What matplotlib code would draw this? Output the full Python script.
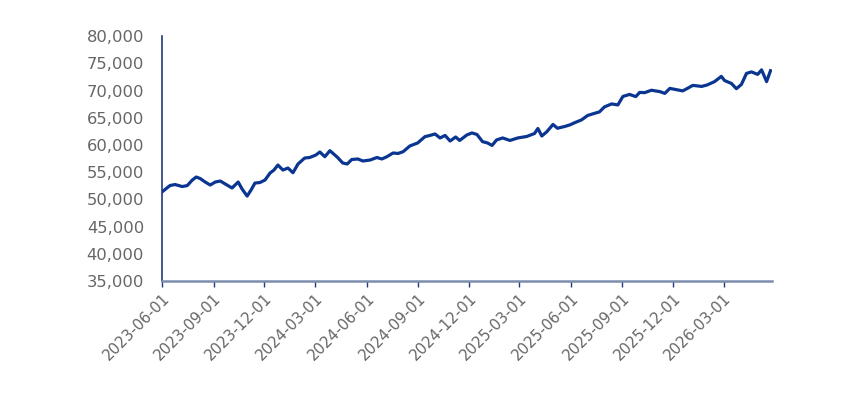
#!/usr/bin/env python3
"""Index level line chart, June 2023 - May 2026."""

import matplotlib
import pandas as pd

matplotlib.use("Agg")
import matplotlib.pyplot as plt
import matplotlib.dates as mdates
from matplotlib.ticker import FuncFormatter

DATES = [
    "2023-06-01", "2023-06-15", "2023-06-24", "2023-07-07", "2023-07-16", "2023-07-25",
    "2023-08-01", "2023-08-08", "2023-08-17", "2023-08-26", "2023-09-04", "2023-09-13",
    "2023-09-25", "2023-10-04", "2023-10-15", "2023-10-22", "2023-10-31", "2023-11-07",
    "2023-11-14", "2023-11-23", "2023-12-02", "2023-12-11", "2023-12-18", "2023-12-25",
    "2024-01-03", "2024-01-12", "2024-01-21", "2024-01-30", "2024-02-11", "2024-02-20",
    "2024-03-02", "2024-03-09", "2024-03-18", "2024-03-27", "2024-04-09", "2024-04-19",
    "2024-04-27", "2024-05-05", "2024-05-16", "2024-05-25", "2024-06-07", "2024-06-19",
    "2024-06-28", "2024-07-07", "2024-07-18", "2024-07-27", "2024-08-05", "2024-08-17",
    "2024-08-31", "2024-09-13", "2024-09-22", "2024-10-01", "2024-10-10", "2024-10-19",
    "2024-10-28", "2024-11-07", "2024-11-14", "2024-11-27", "2024-12-06", "2024-12-15",
    "2024-12-25", "2025-01-03", "2025-01-11", "2025-01-19", "2025-01-30", "2025-02-12",
    "2025-02-26", "2025-03-14", "2025-03-28", "2025-04-03", "2025-04-10", "2025-04-19",
    "2025-04-30", "2025-05-08", "2025-05-21", "2025-05-30", "2025-06-08", "2025-06-20",
    "2025-07-01", "2025-07-14", "2025-07-22", "2025-07-31", "2025-08-13", "2025-08-24",
    "2025-09-02", "2025-09-14", "2025-09-25", "2025-10-02", "2025-10-11", "2025-10-23",
    "2025-11-07", "2025-11-16", "2025-11-25", "2025-12-09", "2025-12-18", "2025-12-27",
    "2026-01-05", "2026-01-21", "2026-01-31", "2026-02-13", "2026-02-25", "2026-03-03",
    "2026-03-15", "2026-03-24", "2026-04-02", "2026-04-11", "2026-04-20", "2026-05-01",
    "2026-05-08", "2026-05-17", "2026-05-24",
]

VALUES = [
    51400, 52550, 52740, 52370, 52550, 53570,
    54120, 53840, 53200, 52650, 53200, 53380,
    52650, 52100, 53200, 51910, 50620, 51730,
    53010, 53110, 53570, 54850, 55400, 56320,
    55400, 55770, 54910, 56510, 57610, 57700,
    58160, 58710, 57850, 58950, 57790, 56690,
    56510, 57330, 57430, 57060, 57240, 57700,
    57430, 57850, 58530, 58440, 58770, 59820,
    60370, 61530, 61750, 62020, 61290, 61750,
    60730, 61470, 60830, 61840, 62210, 61930,
    60610, 60370, 59910, 60920, 61290, 60830,
    61290, 61560, 62110, 63030, 61650, 62440,
    63770, 63070, 63400, 63680, 64100, 64600,
    65420, 65830, 66070, 66990, 67540, 67350,
    68910, 69280, 68880, 69650, 69610, 70050,
    69800, 69470, 70390, 70110, 69930, 70420,
    70940, 70750, 71030, 71640, 72590, 71820,
    71300, 70330, 71120, 73140, 73420, 72960,
    73790, 71640, 73640,
]

X_TICKS = [
    "2023-06-01", "2023-09-01", "2023-12-01", "2024-03-01", "2024-06-01", "2024-09-01",
    "2024-12-01", "2025-03-01", "2025-06-01", "2025-09-01", "2025-12-01", "2026-03-01",
]
Y_TICKS = list(range(35000, 80001, 5000))

LINE_COLOR = "#0a3591"
TEXT_COLOR = "#666666"

plt.rcParams["font.family"] = ["DejaVu Sans"]

dates = pd.to_datetime(DATES)
fig = plt.figure(figsize=(8.67, 3.96), dpi=100)
ax = fig.add_axes([0.187, 0.290, 0.703, 0.619])

ax.plot(dates, VALUES, color=LINE_COLOR, linewidth=2.3, solid_joinstyle="round")

ax.set_xlim(pd.Timestamp("2023-06-01"), pd.Timestamp("2026-05-26"))
ax.set_ylim(35000, 80000)
ax.set_yticks(Y_TICKS)
ax.yaxis.set_major_formatter(FuncFormatter(lambda v, _: f"{int(v):,}"))
ax.set_xticks(pd.to_datetime(X_TICKS))
ax.xaxis.set_major_formatter(mdates.DateFormatter("%Y-%m-%d"))

for lbl in ax.get_xticklabels():
    lbl.set_rotation(45)
    lbl.set_ha("right")
    lbl.set_rotation_mode("anchor")

ax.tick_params(axis="y", length=0, pad=13, labelsize=11.8, labelcolor=TEXT_COLOR)
ax.tick_params(axis="x", length=4, width=1.0, color="#1f3a7a", pad=3,
               labelsize=10.8, labelcolor=TEXT_COLOR)

for side in ("top", "right"):
    ax.spines[side].set_visible(False)
ax.spines["left"].set_color("#1f3a7a")
ax.spines["left"].set_linewidth(1.2)
ax.spines["bottom"].set_color("#7c8db0")
ax.spines["bottom"].set_linewidth(1.8)

fig.savefig("out.png", dpi=100)
